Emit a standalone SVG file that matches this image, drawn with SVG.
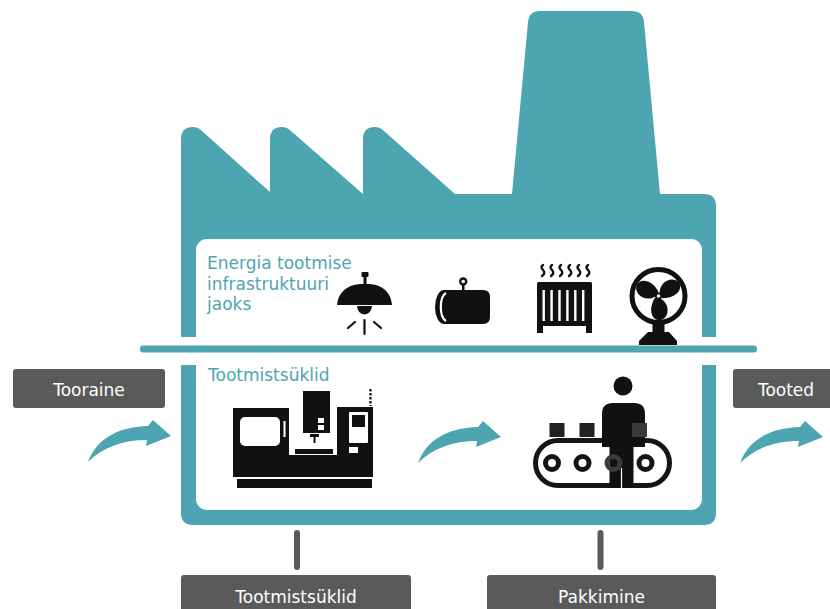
<svg xmlns="http://www.w3.org/2000/svg" width="830" height="609" viewBox="0 0 830 609">
  <style>
    .teal { fill: #4ea5b2; }
    .ink { fill: #111111; }
    .box { fill: #5a5a5a; }
    .boxtext { font-family: "DejaVu Sans", "Liberation Sans", sans-serif; font-size: 17px; fill: #ffffff; text-anchor: middle; }
    .label { font-family: "DejaVu Sans", "Liberation Sans", sans-serif; font-size: 17px; fill: #4ea5b2; }
    .bar { stroke: #5a5a5a; stroke-width: 6; stroke-linecap: round; }
  </style>
  <defs>
    <!-- curved flow arrow, origin at the tail point -->
    <path id="flowArrow" d="M0,0 C8,-22 28,-35 60,-36 L65,-42 L83,-26 L58,-16 L59,-22 C35,-22 15,-15 0,0 Z" fill="#4ea5b2"/>
    <!-- one fan blade, pointing along +x from the hub -->
    <path id="blade" d="M2,-3 C5,-14 19,-16 23,-8 C26,0 16,7 3,3 Z" fill="#111111"/>
  </defs>

  <rect width="830" height="609" fill="#ffffff"/>

  <!-- factory silhouette with interior panels -->
  <g id="factory">
    <path class="teal" d="M181,525 L181,139 Q181,127 193,127 Q198,127 202,131 L270,192 L270,139 Q270,127 282,127 Q287,127 291,131 L363,194 L363,139 Q363,127 375,127 Q380,127 384,131 L455,194 L512,194 L528,22 Q529,11 540,11 L632,11 Q643,11 644,22 L660,194 L704,194 Q716,194 716,206 L716,513 Q716,525 704,525 L193,525 Q181,525 181,513 Z"/>
    <rect x="196" y="239" width="506" height="271" rx="11" fill="#ffffff"/>
    <!-- gap through the walls around the divider -->
    <rect x="175" y="337" width="548" height="28" fill="#ffffff"/>
    <rect class="teal" x="140" y="345.5" width="617" height="7" rx="3"/>
  </g>

  <g id="energy-label">
    <text class="label" x="207" y="269">Energia tootmise</text>
    <text class="label" x="207" y="289.5">infrastruktuuri</text>
    <text class="label" x="207" y="310">jaoks</text>
  </g>

  <g id="cycles-label">
    <text class="label" x="208" y="381">Tootmistsüklid</text>
  </g>

  <!-- ceiling lamp -->
  <g id="lamp" class="ink">
    <rect x="361.5" y="272" width="7" height="5" rx="1"/>
    <rect x="363.5" y="276" width="3" height="9"/>
    <path d="M337,305 Q339,286 360,284 L370,284 Q390,286 392,305 Z"/>
    <path d="M357,306 A7.5,8.5 0 0 0 372,306 Z"/>
    <g stroke="#111111" stroke-width="2.2" stroke-linecap="round">
      <line x1="364.5" y1="320" x2="364.5" y2="334"/>
      <line x1="348" y1="328" x2="355" y2="322"/>
      <line x1="374" y1="322" x2="381" y2="328"/>
    </g>
  </g>

  <!-- pipe / tank -->
  <g id="tank">
    <path class="ink" d="M444,290 L483,290 Q490,290 490,297 L490,317 Q490,324 483,324 L444,324 A9,17 0 0 1 444,290 Z"/>
    <path d="M446,293 A7,14.5 0 0 0 446,321" fill="none" stroke="#ffffff" stroke-width="2.2"/>
    <rect class="ink" x="462" y="284" width="2.5" height="7"/>
    <circle cx="463.2" cy="281.5" r="4.2" class="ink"/>
    <circle cx="463.2" cy="281.5" r="1.8" fill="#ffffff"/>
  </g>

  <!-- radiator -->
  <g id="radiator">
    <g fill="none" stroke="#111111" stroke-width="2.4" stroke-linecap="round">
      <path d="M543,265 q-3,2 0,5 q3,3 -1,6"/>
      <path d="M552,265 q-3,2 0,5 q3,3 -1,6"/>
      <path d="M561,265 q-3,2 0,5 q3,3 -1,6"/>
      <path d="M570,265 q-3,2 0,5 q3,3 -1,6"/>
      <path d="M579,265 q-3,2 0,5 q3,3 -1,6"/>
      <path d="M588,265 q-3,2 0,5 q3,3 -1,6"/>
    </g>
    <rect class="ink" x="537" y="282" width="55" height="44" rx="1.5"/>
    <rect class="ink" x="537" y="324" width="6" height="9"/>
    <rect class="ink" x="586" y="324" width="6" height="9"/>
    <g fill="#ffffff">
      <rect x="542.5" y="290" width="2.4" height="31"/>
      <rect x="550.4" y="290" width="2.4" height="31"/>
      <rect x="558.3" y="290" width="2.4" height="31"/>
      <rect x="566.2" y="290" width="2.4" height="31"/>
      <rect x="574.1" y="290" width="2.4" height="31"/>
      <rect x="582" y="290" width="2.4" height="31"/>
    </g>
  </g>

  <!-- desk fan -->
  <g id="fan">
    <circle cx="658.5" cy="296" r="26.5" fill="none" stroke="#111111" stroke-width="5"/>
    <use href="#blade" transform="translate(658.5,296) rotate(225)"/>
    <use href="#blade" transform="translate(658.5,296) rotate(345)"/>
    <use href="#blade" transform="translate(658.5,296) rotate(105)"/>
    <circle cx="658.5" cy="296" r="3.6" class="ink"/>
    <circle cx="658.5" cy="296" r="1.8" fill="#ffffff"/>
    <rect class="ink" x="652.5" y="322" width="12" height="11"/>
    <path class="ink" d="M648,332 L669,332 L677,341 L677,345 L639,345 L639,341 Z"/>
  </g>

  <!-- CNC machining centre -->
  <g id="cnc">
    <rect class="ink" x="233" y="408" width="56" height="50"/>
    <rect x="240" y="417" width="40" height="29" rx="5" fill="#ffffff"/>
    <rect x="283.5" y="421" width="2" height="16" fill="#ffffff"/>
    <rect class="ink" x="303" y="391" width="27" height="42"/>
    <rect x="318" y="418" width="6" height="5" fill="#ffffff"/>
    <rect x="318" y="425" width="6" height="5" fill="#ffffff"/>
    <rect class="ink" x="310" y="434" width="9" height="3"/>
    <rect class="ink" x="313.5" y="434" width="2" height="9"/>
    <rect class="ink" x="295" y="449" width="38" height="5"/>
    <rect class="ink" x="337" y="407" width="36" height="50"/>
    <rect x="349" y="412" width="19" height="31" rx="1" fill="#ffffff"/>
    <rect class="ink" x="352" y="415" width="13" height="12"/>
    <rect x="349" y="447" width="9" height="6" fill="#ffffff"/>
    <line x1="370.5" y1="389" x2="370.5" y2="406" stroke="#111111" stroke-width="2.2" stroke-dasharray="2.5 1.5"/>
    <rect class="ink" x="233" y="455" width="140" height="22"/>
    <rect class="ink" x="237" y="479" width="135" height="9"/>
  </g>

  <!-- packing line: conveyor with worker -->
  <g id="packing">
    <rect x="535.5" y="440.5" width="134" height="45" rx="22.5" fill="none" stroke="#151515" stroke-width="5"/>
    <g fill="none" stroke="#151515" stroke-width="5">
      <circle cx="552" cy="463" r="6.5"/>
      <circle cx="582.5" cy="463" r="6.5"/>
      <circle cx="645.5" cy="463" r="6.5"/>
    </g>
    <rect x="549.5" y="423" width="15" height="14" fill="#222222"/>
    <rect x="579.5" y="423" width="15" height="14" fill="#222222"/>
    <circle cx="623" cy="386" r="9.5" class="ink"/>
    <path class="ink" d="M602,447 L602,414 Q602,403 613,403 L634,403 Q645,403 645,414 L645,447 Z"/>
    <rect class="ink" x="609.5" y="445" width="24" height="43" rx="2"/>
    <line x1="621.5" y1="468" x2="621.5" y2="489" stroke="#ffffff" stroke-width="1.2"/>
    <circle cx="613.5" cy="463" r="6.5" fill="none" stroke="#3a3a3a" stroke-width="5"/>
    <rect x="632" y="423" width="15" height="14" fill="#3a3a3a"/>
  </g>

  <!-- label boxes -->
  <g id="tooraine">
    <rect class="box" x="13" y="369" width="152" height="39" rx="3"/>
    <text class="boxtext" x="89" y="395.5">Tooraine</text>
  </g>
  <g id="tooted">
    <rect class="box" x="733" y="369" width="110" height="39" rx="3"/>
    <text class="boxtext" x="786" y="395.5">Tooted</text>
  </g>
  <g id="tootmistsyklid">
    <rect class="box" x="181" y="575" width="230" height="44" rx="3"/>
    <text class="boxtext" x="296" y="603">Tootmistsüklid</text>
  </g>
  <g id="pakkimine">
    <rect class="box" x="487" y="575" width="229" height="44" rx="3"/>
    <text class="boxtext" x="601.5" y="603">Pakkimine</text>
  </g>

  <!-- connectors: flow arrows and leader bars -->
  <g id="connectors">
    <use href="#flowArrow" transform="translate(88,462)"/>
    <use href="#flowArrow" transform="translate(418,463)"/>
    <use href="#flowArrow" transform="translate(740,463)"/>
    <line class="bar" x1="297" y1="533" x2="297" y2="567"/>
    <line class="bar" x1="600.5" y1="533" x2="600.5" y2="567"/>
  </g>
</svg>
